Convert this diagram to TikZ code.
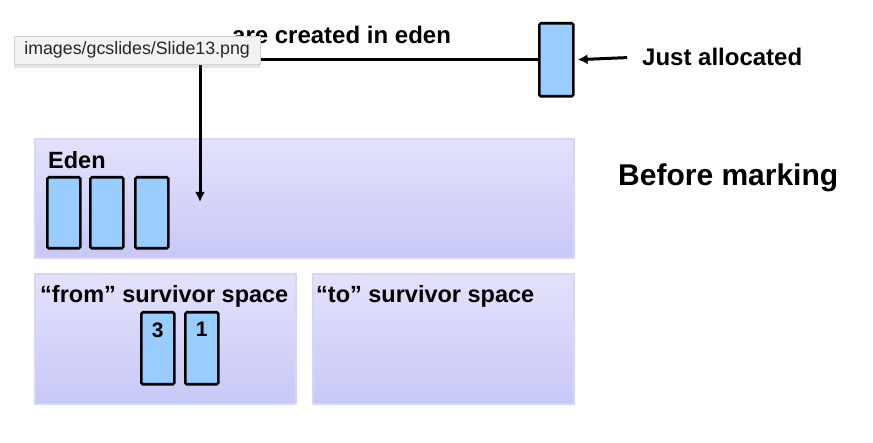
\documentclass[tikz,border=0pt]{standalone}
\usepackage{fontspec}
\setmainfont{Liberation Sans}
\usetikzlibrary{arrows.meta,shadows}

\definecolor{objblue}{HTML}{99CCFF}
\definecolor{spacetop}{HTML}{E2E2FC}
\definecolor{spacebot}{HTML}{C8C8F7}
\definecolor{spaceedge}{HTML}{D6D6FA}
\definecolor{tipfill}{HTML}{F2F2F2}

\begin{document}
\begin{tikzpicture}[
  x=1pt,y=1pt,
  >={Latex[length=10pt,width=10pt]},
  font=\bfseries,
  space/.style={draw=spaceedge, line width=1.6pt, top color=spacetop, bottom color=spacebot,
    anchor=north west, inner sep=0pt, minimum height=#1},
  obj/.style={draw=black, line width=2.6pt, fill=objblue, rounded corners=1.5pt,
    anchor=north west, inner sep=0pt, minimum width=33pt, minimum height=71pt},
  numlbl/.style={anchor=north, yshift=-8pt, font=\bfseries\fontsize{21}{23}\selectfont},
  conn/.style={draw=black, line width=3pt},
  spacelbl/.style={anchor=west, inner sep=0pt, font=\bfseries\fontsize{23.5}{26}\selectfont},
  bigtxt/.style={anchor=west, inner sep=0pt, font=\bfseries\fontsize{24}{27}\selectfont},
  tooltip/.style={draw=black!18, fill=tipfill, line width=0.6pt, anchor=west, inner xsep=10pt,
    minimum height=28pt, font=\mdseries\fontsize{17.8}{20}\selectfont, text=black!85,
    drop shadow={shadow xshift=0pt, shadow yshift=-4pt, opacity=0.22, fill=black!50}}
]
\path[use as bounding box] (0,0) rectangle (873,443);

% Heap spaces
\node[space=119pt, minimum width=539pt] (eden) at (34,305) {};
\node[space=130pt, minimum width=261pt] (fromsp) at (34,170) {};
\node[space=130pt, minimum width=261pt] (tosp) at (312,170) {};

\node[spacelbl] (edenlbl) at (48,283) {Eden};
\node[spacelbl] (fromlbl) at (40,147) {“from” survivor space};
\node[spacelbl] (tolbl) at (316,147) {“to” survivor space};

% Objects in eden
\node[obj] (edenA) at (46,267) {};
\node[obj] (edenB) at (89,267) {};
\node[obj] (edenC) at (134,267) {};

% Objects in the "from" space
\node[obj, minimum height=72pt, label={[numlbl]north:3}] (objthree) at (140,132) {};
\node[obj, minimum height=72pt, label={[numlbl]north:1}] (objone) at (184,132) {};

% New object
\node[obj, minimum height=73pt, minimum width=34pt] (newobj) at (538,421) {};
\node[bigtxt] (justlbl) at (642,386) {Just allocated};
\coordinate (drop) at (200,241);

\draw[conn,->,shorten <=15pt,shorten >=3pt] (justlbl.west) -- (newobj.east);
\draw[conn,->] (newobj.west) -| (drop);

\node[anchor=west, inner sep=0pt, font=\bfseries\fontsize{30}{34}\selectfont] (phase) at (618,265) {Before marking};

% Caption partly hidden by the tooltip
\node[bigtxt] (created) at (232,408) {are created in eden};
\node[tooltip] (tip) at (14,393) {images/gcslides/Slide13.png};

\end{tikzpicture}
\end{document}
